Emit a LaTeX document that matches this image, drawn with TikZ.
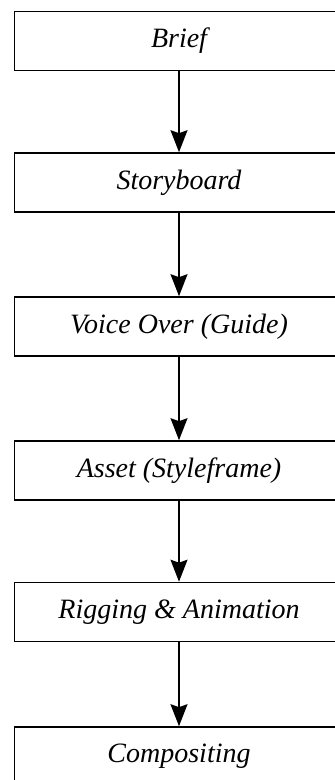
\documentclass[tikz,border=0pt]{standalone}
\usepackage{fontspec}
\setmainfont{Liberation Serif}
\usetikzlibrary{arrows.meta,positioning}

\begin{document}
\begin{tikzpicture}[x=1pt, y=1pt, >={Stealth[length=22pt, width=17pt, inset=3pt]},
  stage/.style={draw, line width=1.6pt, rectangle, minimum width=329pt, minimum height=59pt,
    inner sep=0pt, font=\fontsize{28}{34}\selectfont\itshape},
  flow/.style={->, line width=1.7pt}]

  \useasboundingbox (0,0) rectangle (335,780);
  \clip (0,0) rectangle (335,780);

  % Define the stages of the pipeline
  \node[stage] (brief) at (179, 739) {Brief};
  \node[stage] (story) at (179, 597.5) {Storyboard};
  \node[stage] (vo) at (179, 453.5) {Voice Over (Guide)};
  \node[stage] (asset) at (179, 309.5) {Asset (Styleframe)};
  \node[stage] (rig) at (179, 168) {Rigging \& Animation};
  \node[stage] (comp) at (179, 23.5) {Compositing};

  % Draw arrows between stages
  \draw[flow] (brief) to (story);
  \draw[flow] (story) to (vo);
  \draw[flow] (vo) to (asset);
  \draw[flow] (asset) to (rig);
  \draw[flow] (rig) to (comp);
\end{tikzpicture}
\end{document}
